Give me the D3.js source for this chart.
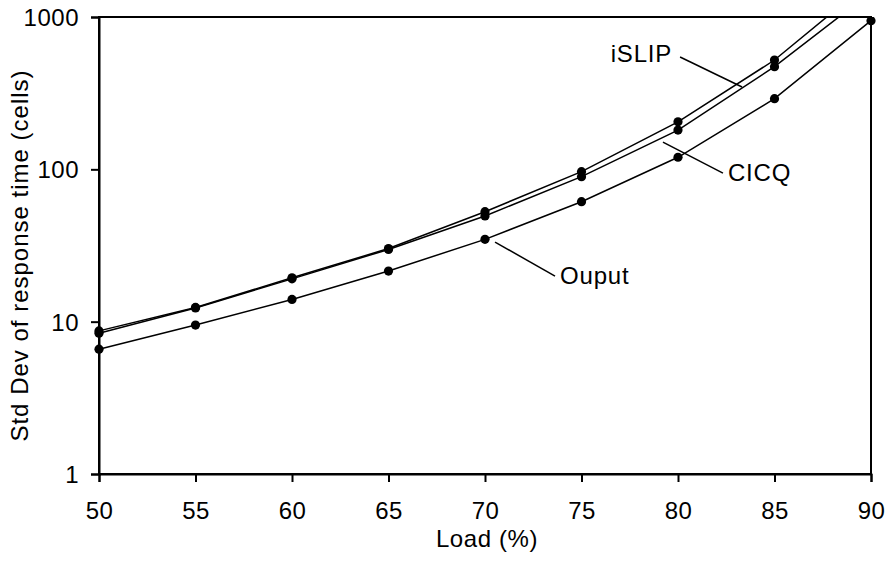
<!DOCTYPE html>
<html>
<head>
<meta charset="utf-8">
<script src="https://cdn.jsdelivr.net/npm/d3@7"></script>
<style>
    body { margin: 0; background: #fff; }
    text { font-family: "Liberation Sans", Arial, sans-serif; fill: #000; }
</style>
</head>
<body>
<svg id="chart" width="890" height="561"></svg>
<script>
// data
var loads = [50, 55, 60, 65, 70, 75, 80, 85, 90];
var islipValues = [8.7, 12.4, 19.4, 30.2, 52.7, 96.5, 205, 522, 1734];
var cicqValues = [8.4, 12.3, 19.1, 29.8, 49.4, 89.5, 181, 472, 1455];
var outputValues = [6.6, 9.5, 14.0, 21.5, 34.7, 61.3, 120, 291, 946];
var seriesNames = ["iSLIP", "CICQ", "Ouput"];
var xTicks = [50, 55, 60, 65, 70, 75, 80, 85, 90];
var yTicks = [1, 10, 100, 1000];

// label leader anchors, in data space (load, value)
var labelLoads = [83.32, 79.22, 70.52];
var labelValues = [347, 151, 33.3];

var margin = {top: 17, right: 19, bottom: 87, left: 99};
var width = 890 - margin.left - margin.right;
var height = 561 - margin.top - margin.bottom;
var fontSize = 24;

var svg = d3.select("#chart");
var g = svg.append("g").attr("transform", "translate(" + margin.left + "," + margin.top + ")");

var x = d3.scaleLinear().domain([50, 90]).range([0, width]);
var y = d3.scaleLog().domain([1, 1000]).range([height, 0]);

var series = [islipValues, cicqValues, outputValues].map(function(vals, i) {
    return {name: seriesNames[i], points: loads.map(function(l, j) { return {x: l, y: vals[j]}; })};
});

g.append("clipPath").attr("id", "plotClip")
    .append("rect").attr("x", -6).attr("y", 0).attr("width", width + 12).attr("height", height);

// frame
g.append("rect")
    .attr("width", width).attr("height", height)
    .attr("fill", "none").attr("stroke", "#000").attr("stroke-width", 2);

var xAxis = d3.axisBottom(x).tickValues(xTicks).tickSize(8).tickPadding(20).tickFormat(d3.format("d"));
var yAxis = d3.axisLeft(y).tickValues(yTicks).tickSize(8).tickPadding(12).tickFormat(d3.format("d"));

var xg = g.append("g").attr("transform", "translate(0," + height + ")").call(xAxis);
var yg = g.append("g").call(yAxis);

[xg, yg].forEach(function(ax) {
    ax.select(".domain").attr("stroke-width", 2);
    ax.selectAll(".tick line").attr("stroke-width", 2);
    ax.selectAll("text").attr("font-size", fontSize).attr("font-family", null)
        .attr("letter-spacing", 0.5);
});
yg.selectAll("text").attr("dy", "0.36em");

var line = d3.line().x(function(d) { return x(d.x); }).y(function(d) { return y(d.y); });

var plot = g.append("g").attr("clip-path", "url(#plotClip)");

plot.selectAll("path.series").data(series).enter().append("path")
    .attr("class", "series")
    .attr("d", function(d) { return line(d.points); })
    .attr("fill", "none").attr("stroke", "#000").attr("stroke-width", 1.5);

plot.selectAll("g.dots").data(series).enter().append("g")
    .attr("class", "dots")
    .selectAll("circle").data(function(d) { return d.points.filter(function(p) { return p.y <= 1000; }); })
    .enter().append("circle")
    .attr("cx", function(d) { return x(d.x); })
    .attr("cy", function(d) { return y(d.y); })
    .attr("r", 4.6).attr("fill", "#000");

// labels with leader lines
var labelOffsets = [[-62, -30], [60, 31], [60, 34]];
seriesNames.forEach(function(name, i) {
    var ax = x(labelLoads[i]), ay = y(labelValues[i]);
    var lx = ax + labelOffsets[i][0], ly = ay + labelOffsets[i][1];
    g.append("line")
        .attr("x1", ax).attr("y1", ay).attr("x2", lx).attr("y2", ly)
        .attr("stroke", "#000").attr("stroke-width", 1.5);
    g.append("text")
        .attr("x", i == 0 ? lx - 8 : lx + 5)
        .attr("y", i == 0 ? ly + 5 : ly + 8)
        .attr("text-anchor", i == 0 ? "end" : "start")
        .attr("font-size", fontSize)
        .attr("letter-spacing", 0.8)
        .text(name);
});

// axis titles
g.append("text")
    .attr("x", width / 2 + 2).attr("y", height + 73)
    .attr("text-anchor", "middle").attr("font-size", fontSize)
    .attr("letter-spacing", 0.6)
    .text("Load (%)");

g.append("text")
    .attr("transform", "translate(" + (28 - margin.left) + "," + (height / 2 + 10) + ") rotate(-90)")
    .attr("text-anchor", "middle").attr("font-size", fontSize)
    .attr("letter-spacing", 1)
    .text("Std Dev of response time (cells)");
</script>
</body>
</html>
